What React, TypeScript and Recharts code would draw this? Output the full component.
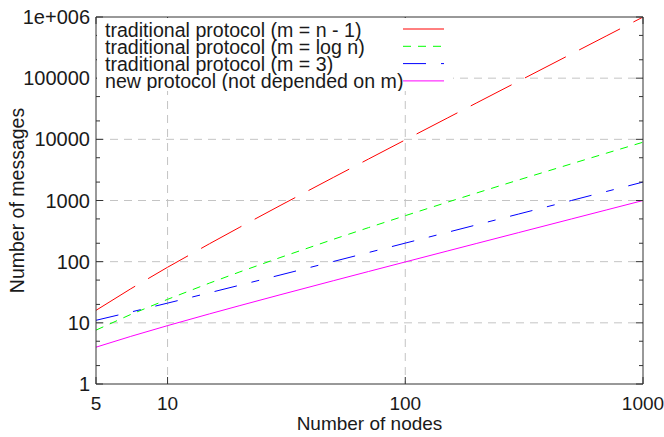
import React from "react";
import { LineChart, Line, XAxis, YAxis, CartesianGrid, Label } from "recharts";

// number of nodes sampled along the x axis
const nodes = [5, 7, 10, 15, 20, 30, 50, 70, 100, 150, 200, 300, 500, 700, 1000];
const msgFull = [16, 36, 81, 196, 361, 841, 2401, 4761, 9801, 22201, 39601, 89401, 249001, 488601, 998001];
const msgLog = [7.6, 13.7, 24.2, 44.6, 67.4, 118, 233, 360, 565, 935, 1330, 2170, 3980, 5920, 8970];
const msgThree = [11, 15, 21, 31, 41, 61, 101, 141, 201, 301, 401, 601, 1001, 1401, 2001];
const msgNew = [4, 6, 9, 14, 19, 29, 49, 69, 99, 149, 199, 299, 499, 699, 999];

const xTicks = [5, 10, 100, 1000];
const yMajor = [1, 10, 100, 1000, 10000, 100000, 1000000];
const yMinor = [2, 5, 20, 50, 200, 500, 2000, 5000, 20000, 50000, 200000, 500000];
const yTicks = [...yMajor, ...yMinor].sort((a, b) => a - b);
const xGrid = [10, 100];
const yGrid = [10, 100, 1000, 10000, 100000];

const series = [
  { key: "full", name: "traditional protocol (m = n - 1)", color: "#ff0000", dash: "46 15" },
  { key: "log", name: "traditional protocol (m = log n)", color: "#00ff00", dash: "8 7" },
  { key: "three", name: "traditional protocol (m = 3)", color: "#0000ff", dash: "23 15 8 15" },
  { key: "new", name: "new protocol (not depended on m)", color: "#ff00ff", dash: undefined },
];

const data = nodes.map((n, i) => ({
  n,
  full: msgFull[i],
  log: msgLog[i],
  three: msgThree[i],
  new: msgNew[i],
}));

const FONT = "'Liberation Sans', Arial, sans-serif";
const AXIS = "#333";
const TXT = "#1a1a1a";

const fmtY = (v: number) => (v >= 1000000 ? "1e+006" : String(v));

const BottomTick = ({ x, y, payload }: any) => (
  <g>
    <line x1={x} x2={x} y1={y} y2={y - 7} stroke={AXIS} />
    <text x={x} y={y + 26} textAnchor="middle" fontSize={19} fontFamily={FONT} fill={TXT}>
      {payload.value}
    </text>
  </g>
);

const TopTick = ({ x, y }: any) => <line x1={x} x2={x} y1={y} y2={y + 7} stroke={AXIS} />;

const LeftTick = ({ x, y, payload }: any) => {
  const major = yMajor.includes(payload.value);
  return (
    <g>
      <line x1={x} x2={x + (major ? 7 : 4)} y1={y} y2={y} stroke={AXIS} />
      {major && (
        <text x={x - 6} y={y + 7} textAnchor="end" fontSize={20} fontFamily={FONT} fill={TXT}>
          {fmtY(payload.value)}
        </text>
      )}
    </g>
  );
};

const RightTick = ({ x, y, payload }: any) => {
  const major = yMajor.includes(payload.value);
  return <line x1={x} x2={x - (major ? 7 : 4)} y1={y} y2={y} stroke={AXIS} />;
};

const KeyBox = () => (
  <svg width={356} height={73} style={{ position: "absolute", left: 97, top: 18 }}>
    <rect x={0} y={0} width={356} height={73} fill="#fff" />
    {series.map((s, i) => {
      const cy = 11 + i * 17.3;
      return (
        <g key={s.key}>
          <text x={8} y={cy + 7.5} fontSize={19.6} fontFamily={FONT} fill={TXT}>
            {s.name}
          </text>
          <line x1={306} x2={347} y1={cy} y2={cy} stroke={s.color} strokeDasharray={s.dash} />
        </g>
      );
    })}
  </svg>
);

export default function App() {
  return (
    <div style={{ position: "absolute", left: 0, top: 0, width: 664, height: 437, background: "#fff" }}>
      <LineChart width={664} height={437} data={data} margin={{ top: 0, right: 0, bottom: 0, left: 0 }}>
        <CartesianGrid
          horizontalValues={yGrid}
          verticalValues={xGrid}
          stroke="#c4c4c4"
          strokeDasharray="8 6"
        />
        <XAxis
          dataKey="n"
          type="number"
          scale="log"
          domain={[5, 1000]}
          allowDataOverflow
          ticks={xTicks}
          height={53}
          tickSize={0}
          tickMargin={0}
          tickLine={false}
          axisLine={{ stroke: AXIS }}
          tick={<BottomTick />}
          interval={0}
        >
          <Label
            content={({ viewBox }: any) => (
              <text
                x={viewBox.x + viewBox.width / 2}
                y={viewBox.y + 46}
                textAnchor="middle"
                fontSize={19}
                fontFamily={FONT}
                fill={TXT}
              >
                Number of nodes
              </text>
            )}
          />
        </XAxis>
        <XAxis
          xAxisId="top"
          orientation="top"
          dataKey="n"
          type="number"
          scale="log"
          domain={[5, 1000]}
          allowDataOverflow
          ticks={xTicks}
          height={17}
          tickSize={0}
          tickMargin={0}
          tickLine={false}
          axisLine={{ stroke: AXIS }}
          tick={<TopTick />}
          interval={0}
        />
        <YAxis
          type="number"
          scale="log"
          domain={[1, 1000000]}
          allowDataOverflow
          ticks={yTicks}
          width={96}
          tickSize={0}
          tickMargin={0}
          tickLine={false}
          axisLine={{ stroke: AXIS }}
          tick={<LeftTick />}
          interval={0}
        >
          <Label
            content={({ viewBox }: any) => {
              const cx = 17;
              const cy = viewBox.y + viewBox.height / 2;
              return (
                <text
                  x={cx}
                  y={cy}
                  transform={`rotate(-90 ${cx} ${cy})`}
                  textAnchor="middle"
                  dominantBaseline="central"
                  fontSize={19.5}
                  fontFamily={FONT}
                  fill={TXT}
                >
                  Number of messages
                </text>
              );
            }}
          />
        </YAxis>
        <YAxis
          yAxisId="right"
          orientation="right"
          type="number"
          scale="log"
          domain={[1, 1000000]}
          allowDataOverflow
          ticks={yTicks}
          width={21}
          tickSize={0}
          tickMargin={0}
          tickLine={false}
          axisLine={{ stroke: AXIS }}
          tick={<RightTick />}
          interval={0}
        />
        {series.map((s) => (
          <Line
            key={s.key}
            type="linear"
            dataKey={s.key}
            name={s.name}
            stroke={s.color}
            strokeWidth={1}
            strokeDasharray={s.dash}
            dot={false}
            activeDot={false}
            isAnimationActive={false}
          />
        ))}
      </LineChart>
      <KeyBox />
    </div>
  );
}
